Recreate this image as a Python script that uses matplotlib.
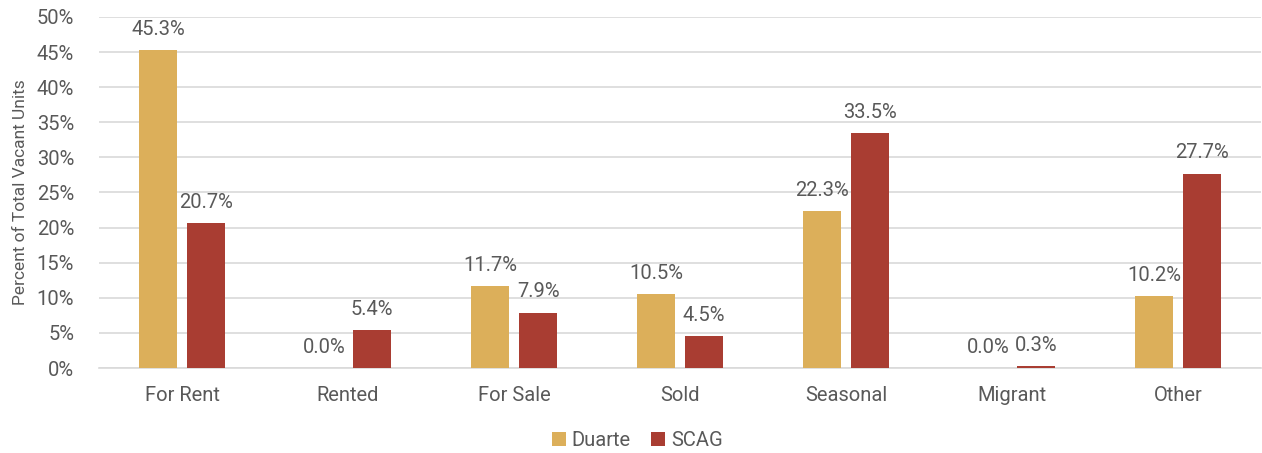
import matplotlib
matplotlib.use("Agg")
import matplotlib.pyplot as plt
import numpy as np

categories = ["For Rent", "Rented", "For Sale", "Sold", "Seasonal", "Migrant", "Other"]
duarte = [45.3, 0.0, 11.7, 10.5, 22.3, 0.0, 10.2]
scag = [20.7, 5.4, 7.9, 4.5, 33.5, 0.3, 27.7]
series_names = ["Duarte", "SCAG"]
yticks = [0, 5, 10, 15, 20, 25, 30, 35, 40, 45, 50]

plt.rcParams['font.family'] = ['Roboto', 'DejaVu Sans']
txt = "#595959"
c_duarte = "#DCAF5A"
c_scag = "#A93D32"

fig = plt.figure(figsize=(12.62, 4.53), dpi=100)
ax = fig.add_axes([0.0785, 0.1876, 0.9207, 0.775])

x = np.arange(len(categories))
w = 0.23
off = 0.145
b1 = ax.bar(x - off, duarte, w, color=c_duarte, label=series_names[0], zorder=3)
b2 = ax.bar(x + off, scag, w, color=c_scag, label=series_names[1], zorder=3)

for bars, vals in ((b1, duarte), (b2, scag)):
    for r, v in zip(bars, vals):
        ax.annotate(f"{v:.1f}%", (r.get_x() + r.get_width() / 2, v),
                    xytext=(0, 8), textcoords="offset points",
                    ha="center", va="bottom", fontsize=14.5, color=txt)

ax.set_xlim(-0.5, len(categories) - 0.5)
ax.set_ylim(0, 50)
ax.set_yticks(yticks)
ax.set_yticklabels([f"{t}%" for t in yticks])
ax.set_xticks(x)
ax.set_xticklabels(categories)
ax.tick_params(axis="both", length=0, labelsize=14.5, colors=txt)
ax.tick_params(axis="x", pad=13)
ax.tick_params(axis="y", pad=18)
ax.grid(axis="y", color="#D9D9D9", linewidth=1.2, zorder=0)
for s in ("top", "right", "left"):
    ax.spines[s].set_visible(False)
ax.spines["bottom"].set_color("#D9D9D9")
ax.spines["bottom"].set_linewidth(1.2)
ax.set_ylabel("Percent of Total Vacant Units", fontsize=12.5, color=txt, labelpad=6)

leg = fig.legend(handles=[b1, b2], labels=series_names, loc="center",
                 bbox_to_anchor=(0.505, 0.028), ncol=2, frameon=False,
                 fontsize=14.5, handlelength=0.7, handleheight=0.7,
                 handletextpad=0.3, columnspacing=1.0, labelcolor=txt)

fig.savefig("out.png", dpi=100)
